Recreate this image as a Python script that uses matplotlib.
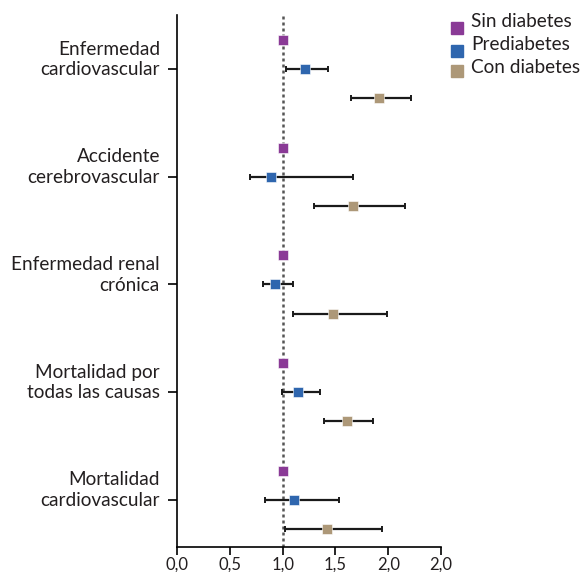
import matplotlib
matplotlib.use("Agg")
import matplotlib.pyplot as plt
from matplotlib.lines import Line2D
import numpy as np

categories = ["Enfermedad\ncardiovascular", "Accidente\ncerebrovascular",
              "Enfermedad renal\ncrónica", "Mortalidad por\ntodas las causas",
              "Mortalidad\ncardiovascular"]
series = ["Sin diabetes", "Prediabetes", "Con diabetes"]
colors = ["#8a3a96", "#2f66ae", "#ad9878"]

sin_val = [1.0, 1.0, 1.0, 1.0, 1.0]
pre_val = [1.21, 0.89, 0.93, 1.15, 1.11]
pre_lo = [1.03, 0.69, 0.81, 0.99, 0.83]
pre_hi = [1.43, 1.67, 1.10, 1.35, 1.53]
con_val = [1.91, 1.67, 1.48, 1.61, 1.42]
con_lo = [1.65, 1.30, 1.10, 1.39, 1.02]
con_hi = [2.22, 2.16, 1.99, 1.86, 1.94]

xticks = [0.0, 0.5, 1.0, 1.5, 2.0, 2.5]
xticklabels = ["0,0", "0,5", "1,0", "1,5", "2,0", "2,0"]

plt.rcParams['font.family'] = ['Lato', 'DejaVu Sans']
txtcol = "#231f20"

fig = plt.figure(figsize=(5.82, 5.72), dpi=100)
ax = fig.add_axes([177/582, 1-547/572, (441-177)/582, (547-15)/572])

n = len(categories)
y = np.arange(n)
off = 0.27

ax.axvline(1.0, color="#555555", lw=1.8, ls=(0, (1.2, 1.2)), zorder=1)

pv, pl, ph = map(np.array, (pre_val, pre_lo, pre_hi))
cv, cl, ch = map(np.array, (con_val, con_lo, con_hi))
ax.errorbar(pv, y, xerr=[pv - pl, ph - pv], fmt='none', ecolor="#1a1a1a",
            elinewidth=1.6, capsize=2.0, capthick=1.4, zorder=2)
ax.errorbar(cv, y + off, xerr=[cv - cl, ch - cv], fmt='none', ecolor="#1a1a1a",
            elinewidth=1.6, capsize=2.0, capthick=1.4, zorder=2)

ax.plot(sin_val, y - off, 's', color=colors[0], ms=7, mec='white', mew=0.4, ls='none', zorder=3)
ax.plot(pre_val, y, 's', color=colors[1], ms=7, mec='white', mew=0.4, ls='none', zorder=3)
ax.plot(con_val, y + off, 's', color=colors[2], ms=7, mec='white', mew=0.4, ls='none', zorder=3)

ax.set_xlim(0, 2.5)
ax.set_ylim(4.44, -0.505)
ax.set_xticks(xticks)
ax.set_xticklabels(xticklabels, fontsize=12, color=txtcol)
ax.set_yticks(y)
ax.set_yticklabels([])
ax.tick_params(axis='y', length=6.5, width=1.2, direction='out')
ax.tick_params(axis='x', length=5.5, width=1.2, direction='out', pad=1.5)
for s in ['top', 'right']:
    ax.spines[s].set_visible(False)
for s in ['left', 'bottom']:
    ax.spines[s].set_linewidth(1.2)

trans = ax.get_yaxis_transform()
for i, c in enumerate(categories):
    ax.text(-17/264, i - 0.09, c, transform=trans, ha='right', va='center',
            fontsize=13.7, linespacing=1.25, color=txtcol)

# legend
leg_y_text = [20, 43, 66]
leg_y_sq = [27.5, 50.5, 71]
for i, s in enumerate(series):
    fig.text(471/582, 1 - leg_y_text[i]/572, s, ha='left', va='center_baseline',
             fontsize=13.7, color=txtcol)
    fig.add_artist(Line2D([457/582], [1 - leg_y_sq[i]/572], marker='s', ms=8.5,
                          color=colors[i], ls='none', transform=fig.transFigure))

fig.savefig("out.png", dpi=100)
